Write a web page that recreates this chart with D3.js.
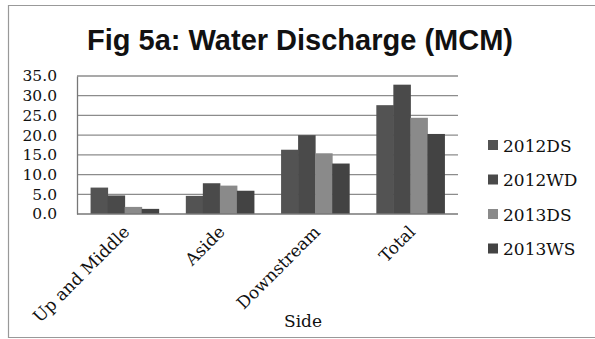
<!DOCTYPE html>
<html>
<head>
<meta charset="utf-8">
<script src="https://cdn.jsdelivr.net/npm/d3@7"></script>
<style>
  html, body { margin: 0; padding: 0; background: #fff; }
  svg { display: block; }
</style>
</head>
<body>
<svg id="chart" width="595" height="339"></svg>
<script>
// Water discharge per side, million cubic metres
const categories = ["Up and Middle", "Aside", "Downstream", "Total"];
const seriesNames = ["2012DS", "2012WD", "2013DS", "2013WS"];
const s2012DS = [6.7, 4.6, 16.3, 27.6];
const s2012WD = [4.7, 7.8, 20.0, 32.8];
const s2013DS = [1.8, 7.2, 15.4, 24.4];
const s2013WS = [1.3, 5.9, 12.8, 20.3];
const yTicks = [0, 5, 10, 15, 20, 25, 30, 35];

const seriesValues = [s2012DS, s2012WD, s2013DS, s2013WS];
const colors = ["#535353", "#4a4a4a", "#8a8a8a", "#434343"];

const svg = d3.select("#chart");
const serif = "'DejaVu Serif', serif";

// outer frame (top, left, bottom)
svg.append("path")
  .attr("d", "M595,5.5 H8.5 V337.5 H595")
  .attr("fill", "none").attr("stroke", "#999").attr("stroke-width", 1.2);

svg.append("text")
  .attr("x", 300).attr("y", 50)
  .attr("text-anchor", "middle")
  .attr("font-family", "'Liberation Sans', Arial, sans-serif")
  .attr("font-weight", "bold").attr("font-size", 29)
  .attr("fill", "#111")
  .text("Fig 5a: Water Discharge (MCM)");

const plot = { left: 77, right: 458, top: 76, bottom: 214 };

const x0 = d3.scaleBand().domain(categories)
  .range([plot.left, plot.right]).paddingInner(0.285).paddingOuter(0.1425);
const x1 = d3.scaleBand().domain(seriesNames).range([0, x0.bandwidth()]);
const y = d3.scaleLinear().domain([0, 35]).range([plot.bottom, plot.top]);

// gridlines
svg.append("g").selectAll("line").data(yTicks.filter(d => d > 0)).join("line")
  .attr("x1", plot.left).attr("x2", plot.right)
  .attr("y1", d => y(d)).attr("y2", d => y(d))
  .attr("stroke", "#8c8c8c").attr("stroke-width", 1.3);

// bars (touching within each group)
const groups = svg.append("g").selectAll("g").data(categories).join("g")
  .attr("transform", c => `translate(${x0(c)},0)`);
groups.selectAll("rect")
  .data((c, ci) => seriesNames.map((s, si) => ({ s, si, v: seriesValues[si][ci] })))
  .join("rect")
  .attr("x", d => x1(d.s)).attr("width", x1.bandwidth() + 0.5)
  .attr("y", d => y(d.v)).attr("height", d => y(0) - y(d.v))
  .attr("fill", d => colors[d.si]);

// y axis
const yAxis = svg.append("g").attr("transform", `translate(${plot.left},0)`)
  .call(d3.axisLeft(y).tickValues(yTicks).tickFormat(d3.format(".1f")).tickSize(0).tickPadding(20));
yAxis.select(".domain").attr("stroke", "#777").attr("stroke-width", 1.3);
yAxis.selectAll("text").attr("font-family", serif).attr("font-size", 15.5).attr("fill", "#111");

// baseline
svg.append("line")
  .attr("x1", plot.left).attr("x2", plot.right)
  .attr("y1", y(0)).attr("y2", y(0))
  .attr("stroke", "#777").attr("stroke-width", 1.5);

// category labels, rotated
svg.append("g").selectAll("text").data(categories).join("text")
  .attr("transform", c => `translate(${x0(c) + x0.bandwidth() / 2 + 6},${plot.bottom + 19}) rotate(-45)`)
  .attr("text-anchor", "end")
  .attr("font-family", serif).attr("font-size", 17).attr("fill", "#111")
  .text(c => c);

svg.append("text")
  .attr("x", 303).attr("y", 327)
  .attr("text-anchor", "middle")
  .attr("font-family", serif).attr("font-size", 17).attr("fill", "#111")
  .text("Side");

// legend
const legend = svg.append("g").selectAll("g").data(seriesNames).join("g")
  .attr("transform", (d, i) => `translate(488,${145 + i * 34.5})`);
legend.append("rect")
  .attr("x", 0).attr("y", -5).attr("width", 10).attr("height", 10)
  .attr("fill", (d, i) => colors[i]);
legend.append("text")
  .attr("x", 15).attr("y", 6.5)
  .attr("font-family", serif).attr("font-size", 17).attr("fill", "#111")
  .text(d => d);
</script>
</body>
</html>
